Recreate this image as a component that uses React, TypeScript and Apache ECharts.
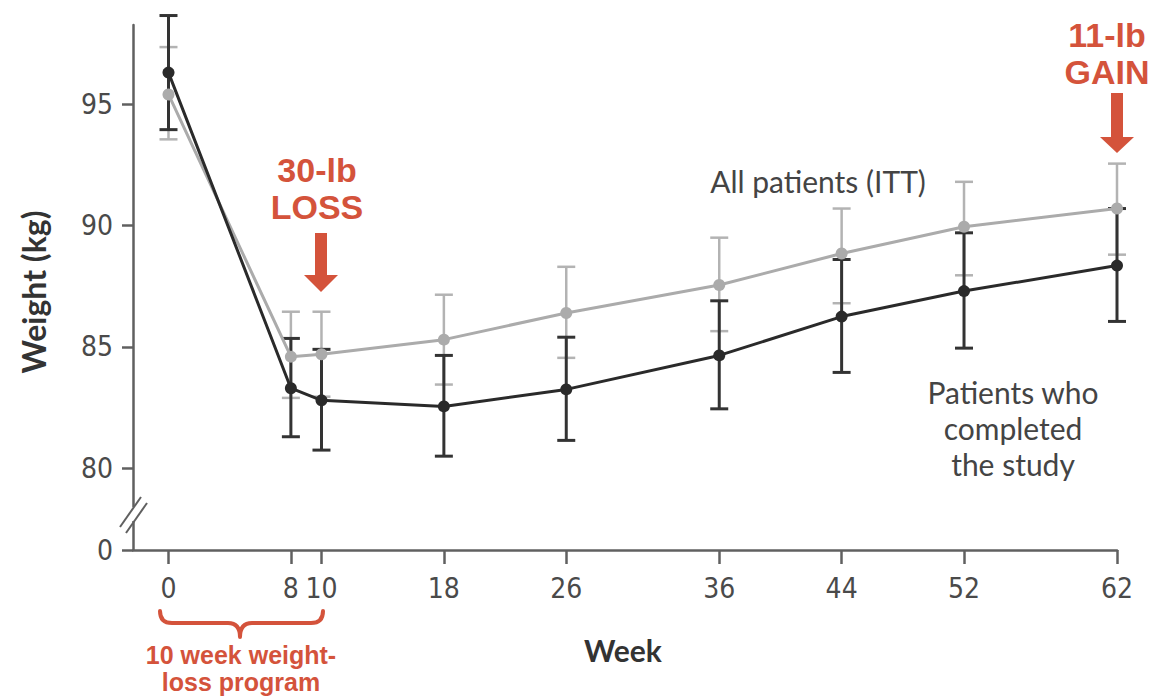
import React, { useEffect, useRef } from "react";
import * as echarts from "echarts";

const weeks = [0, 8, 10, 18, 26, 36, 44, 52, 62];
const ittMean = [95.4, 84.6, 84.7, 85.3, 86.4, 87.55, 88.85, 89.95, 90.7];
const ittLow = [93.55, 82.9, 82.95, 83.45, 84.55, 85.65, 86.8, 87.95, 88.8];
const ittHigh = [97.35, 86.45, 86.45, 87.15, 88.3, 89.5, 90.7, 91.8, 92.55];
const compMean = [96.3, 83.3, 82.8, 82.55, 83.25, 84.65, 86.25, 87.3, 88.35];
const compLow = [93.95, 81.3, 80.75, 80.5, 81.15, 82.45, 83.95, 84.95, 86.05];
const compHigh = [98.65, 85.35, 84.9, 84.65, 85.4, 86.9, 88.6, 89.7, 90.7];
const yTickValues = [76.635, 80, 85, 90, 95];
const yTickLabels = ["0", "80", "85", "90", "95"];

const RED = "#d4533b";
const GRAY = "#ababab";
const BLACK = "#2a2a2a";
const AXIS = "#606060";
const TICKFONT = "'Liberation Sans Narrow', 'DejaVu Sans Condensed', sans-serif";
const TEXTFONT = "Lato, 'Open Sans', sans-serif";
const BOLDFONT = "'Liberation Sans', Arial, sans-serif";

const braceD =
  "M0,0 Q0,12 12,12 L68,12 Q80,12 80,26 Q80,12 92,12 L151,12 Q163,12 163,0";

function errorBarSeries(low: number[], high: number[], color: string, lw: number) {
  return {
    type: "custom",
    data: weeks.map((w, i) => [w, low[i], high[i]]),
    encode: { x: 0, y: [1, 2] },
    clip: false,
    silent: true,
    renderItem: (_params: any, api: any) => {
      const x = api.value(0);
      const pL = api.coord([x, api.value(1)]);
      const pH = api.coord([x, api.value(2)]);
      const hw = 9;
      const style = { stroke: color, lineWidth: lw };
      return {
        type: "group",
        children: [
          { type: "line", shape: { x1: pL[0], y1: pL[1], x2: pH[0], y2: pH[1] }, style },
          { type: "line", shape: { x1: pL[0] - hw, y1: pL[1], x2: pL[0] + hw, y2: pL[1] }, style },
          { type: "line", shape: { x1: pH[0] - hw, y1: pH[1], x2: pH[0] + hw, y2: pH[1] }, style },
        ],
      };
    },
  };
}

function lineSeries(vals: number[], color: string) {
  return {
    type: "line",
    data: weeks.map((w, i) => [w, vals[i]]),
    symbol: "circle",
    symbolSize: 12,
    itemStyle: { color },
    lineStyle: { color, width: 3 },
    silent: true,
  };
}

function txt(text: string, x: number, y: number, font: string, fill: string, extra: any = {}) {
  return {
    type: "text", z: 100, x, y, ...extra,
    style: { text, font, fill, align: "center", verticalAlign: "middle" },
  };
}

export default function App() {
  const ref = useRef<HTMLDivElement>(null);
  useEffect(() => {
    if (!ref.current) return;
    try {
      echarts.graphic.registerShape("brace", echarts.graphic.extendPath(braceD, {}));
    } catch (e) {}
    const chart = echarts.init(ref.current, null, { renderer: "svg" });
    const option: any = {
      animation: false,
      backgroundColor: "#ffffff",
      grid: { left: 133, right: 42, top: 25, bottom: 148, containLabel: false },
      xAxis: {
        type: "value",
        min: -2.32,
        max: 62,
        axisLine: { show: true, onZero: false, lineStyle: { color: AXIS, width: 2.5 } },
        axisTick: { show: true, length: 14, customValues: weeks, lineStyle: { color: AXIS, width: 2.5 } },
        axisLabel: {
          customValues: weeks,
          margin: 24,
          fontFamily: TICKFONT,
          fontSize: 28,
          color: "#4a4a4a",
        },
        splitLine: { show: false },
      },
      yAxis: {
        type: "value",
        min: 76.635,
        max: 98.26,
        axisLine: { show: true, onZero: false, lineStyle: { color: AXIS, width: 2.5 } },
        axisTick: { show: true, length: 11, customValues: yTickValues, lineStyle: { color: AXIS, width: 2.5 } },
        axisLabel: {
          customValues: yTickValues,
          margin: 20,
          fontFamily: TICKFONT,
          fontSize: 28,
          color: "#4a4a4a",
          formatter: (v: number) => {
            const i = yTickValues.findIndex((t) => Math.abs(t - v) < 0.01);
            return i >= 0 ? yTickLabels[i] : "";
          },
        },
        splitLine: { show: false },
      },
      series: [
        errorBarSeries(ittLow, ittHigh, "#b3b3b3", 2.5),
        lineSeries(ittMean, GRAY),
        errorBarSeries(compLow, compHigh, "#333333", 3),
        lineSeries(compMean, BLACK),
      ],
      graphic: [
        // axis break
        { type: "rect", z: 100, shape: { x: 128, y: 507, width: 10, height: 14 }, style: { fill: "#ffffff" } },
        { type: "line", z: 101, shape: { x1: 120, y1: 527, x2: 141, y2: 497 }, style: { stroke: AXIS, lineWidth: 2 } },
        { type: "line", z: 101, shape: { x1: 126, y1: 533, x2: 147, y2: 503 }, style: { stroke: AXIS, lineWidth: 2 } },
        // axis titles
        txt("Weight (kg)", 33, 292, `bold 32px ${TEXTFONT}`, "#333", { rotation: Math.PI / 2 }),
        txt("Week", 623, 650, `bold 30px ${TEXTFONT}`, "#333"),
        // series labels
        txt("All patients (ITT)", 818, 181, `30px ${TEXTFONT}`, "#444"),
        txt("Patients who", 1013, 392, `30px ${TEXTFONT}`, "#444"),
        txt("completed", 1013, 428, `30px ${TEXTFONT}`, "#444"),
        txt("the study", 1013, 464, `30px ${TEXTFONT}`, "#444"),
        // annotations
        txt("30-lb", 317, 170, `bold 34px ${BOLDFONT}`, RED),
        txt("LOSS", 317, 207, `bold 34px ${BOLDFONT}`, RED),
        {
          type: "polygon", z: 100,
          shape: { points: [[315, 233], [327, 233], [327, 275], [338, 275], [321, 292], [304, 275], [315, 275]] },
          style: { fill: RED },
        },
        txt("11-lb", 1107, 35, `bold 34px ${BOLDFONT}`, RED),
        txt("GAIN", 1107, 72, `bold 34px ${BOLDFONT}`, RED),
        {
          type: "polygon", z: 100,
          shape: { points: [[1111, 93], [1123, 93], [1123, 137], [1134, 137], [1117, 153], [1100, 137], [1111, 137]] },
          style: { fill: RED },
        },
        {
          type: "brace", z: 100, x: 160, y: 611, scaleX: 1, scaleY: 1,
          style: { stroke: RED, lineWidth: 4, fill: null, lineJoin: "round", lineCap: "round" },
        },
        txt("10 week weight-", 241, 655, `bold 25px ${BOLDFONT}`, RED),
        txt("loss program", 241, 682, `bold 25px ${BOLDFONT}`, RED),
      ],
    };
    chart.setOption(option);
    return () => chart.dispose();
  }, []);
  return (
    <div
      ref={ref}
      style={{ position: "fixed", left: 0, top: 0, width: 1159, height: 698, background: "#fff" }}
    />
  );
}
